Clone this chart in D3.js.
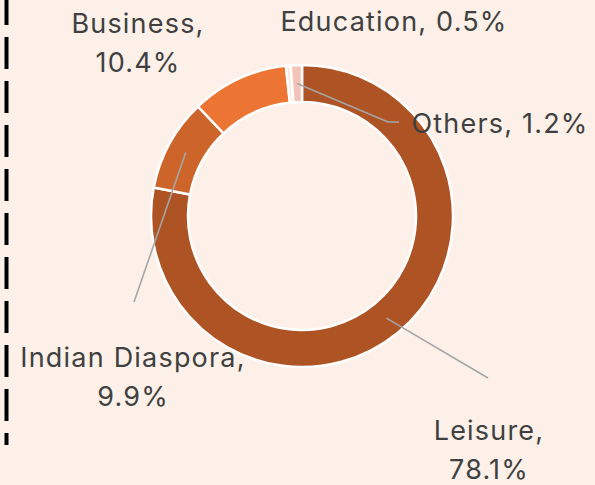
<!DOCTYPE html>
<html>
<head>
<meta charset="utf-8">
<script src="https://cdn.jsdelivr.net/npm/d3@7"></script>
<style>
  html, body { margin: 0; padding: 0; background: #FDF0E9; }
  svg { display: block; }
</style>
</head>
<body>
<svg id="chart" width="595" height="485"></svg>
<script>
// Trip purpose shares (%)
const categories = ["Leisure", "Indian Diaspora", "Business", "Education", "Others"];
const shares = [78.1, 9.9, 10.4, 0.5, 1.2];
const sliceColors = ["#AE5324", "#CD6429", "#EC7533", "#FBE6DA", "#F2C3B6"];

const W = 595, H = 485;
const cx = 302, cy = 216;
const outerR = 151, innerR = 114;

const svg = d3.select("#chart");
svg.append("rect").attr("width", W).attr("height", H).attr("fill", "#FDF0E9");

// dashed separator on the left edge
svg.append("line")
  .attr("x1", 6.5).attr("x2", 6.5).attr("y1", 0).attr("y2", 445)
  .attr("stroke", "#000").attr("stroke-width", 4)
  .attr("stroke-dasharray", "32 12").attr("stroke-dashoffset", 7);

const pie = d3.pie().sort(null).value(d => d.value);
const arcs = pie(categories.map((c, i) => ({ name: c, value: shares[i], color: sliceColors[i] })));
const arc = d3.arc().innerRadius(innerR).outerRadius(outerR);
const midArc = d3.arc().innerRadius((innerR + outerR) / 2).outerRadius((innerR + outerR) / 2);

const g = svg.append("g").attr("transform", `translate(${cx},${cy})`);
g.selectAll("path.slice")
  .data(arcs)
  .join("path")
  .attr("class", "slice")
  .attr("d", arc)
  .attr("fill", d => d.data.color)
  .attr("stroke", "#fff")
  .attr("stroke-width", 2.5)
  .attr("stroke-linejoin", "miter");

// label placement (absolute page coordinates) and optional leader-line bends
const labelLayout = {
  "Leisure":         { x: 489, y: 440, lines: 2, leader: [[488, 378]] },
  "Indian Diaspora": { x: 133, y: 367, lines: 2, leader: [[134, 302]] },
  "Business":        { x: 138, y: 33,  lines: 2, leader: null },
  "Education":       { x: 394, y: 31,  lines: 1, leader: null },
  "Others":          { x: 500, y: 133, lines: 1, leader: [[388, 122], [399, 122]] }
};

const fontSize = 27, lineGap = 38.5;
arcs.forEach(d => {
  const L = labelLayout[d.data.name];
  if (L.leader) {
    const [mx, my] = midArc.centroid(d);
    const pts = [[cx + mx, cy + my]].concat(L.leader);
    svg.append("path")
      .attr("d", d3.line()(pts))
      .attr("fill", "none")
      .attr("stroke", "#A6A6A6")
      .attr("stroke-width", 1.6);
  }
  const t = svg.append("text")
    .attr("x", L.x).attr("y", L.y)
    .attr("text-anchor", "middle")
    .attr("font-family", "Inter, 'Open Sans', sans-serif")
    .attr("font-size", fontSize)
    .attr("letter-spacing", 1.2)
    .attr("fill", "#404040");
  const pct = d.data.value.toFixed(1) + "%";
  if (L.lines === 2) {
    t.append("tspan").attr("x", L.x).text(d.data.name + ",");
    t.append("tspan").attr("x", L.x).attr("dy", lineGap).text(pct);
  } else {
    t.text(d.data.name + ", " + pct);
  }
});
</script>
</body>
</html>
